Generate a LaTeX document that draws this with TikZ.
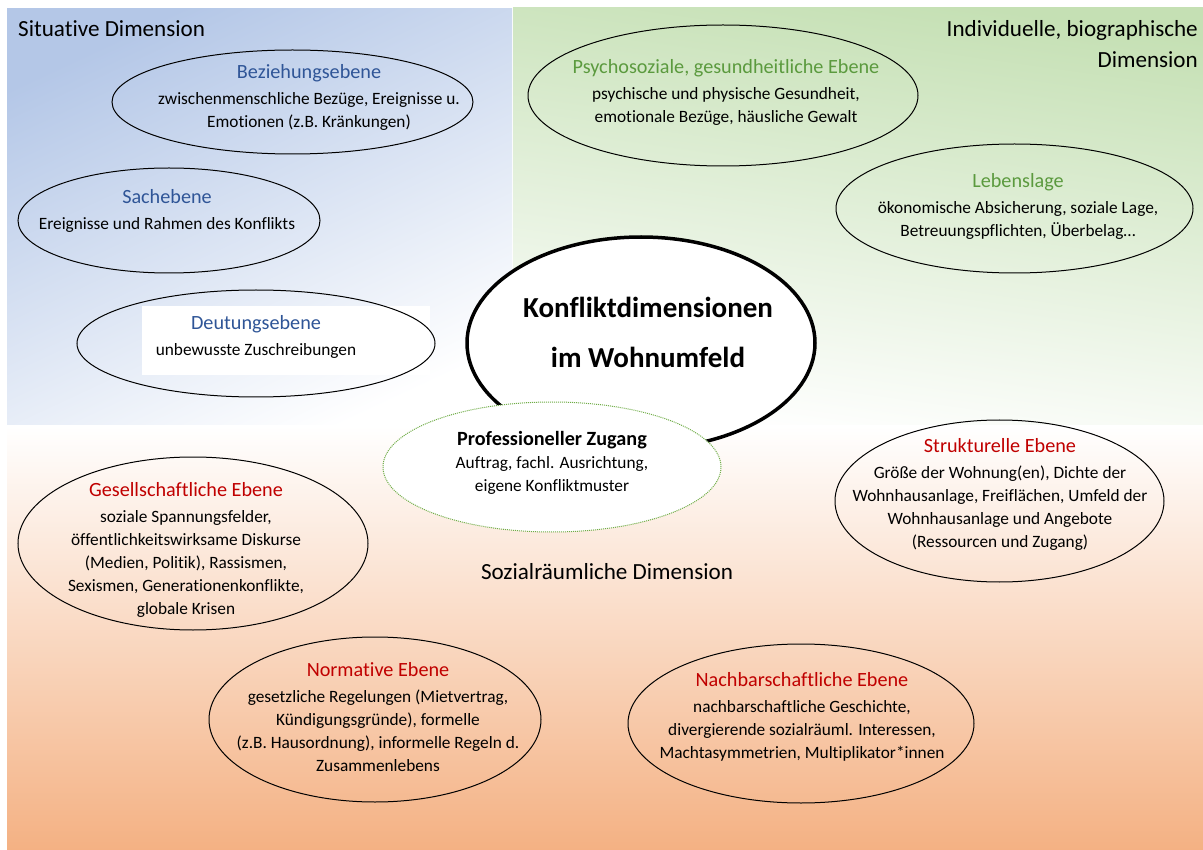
\documentclass[tikz,border=0pt]{standalone}
\usepackage{fontspec}
\setmainfont{Carlito}[Ligatures=NoCommon]
\usetikzlibrary{shapes.geometric}

\definecolor{blauA}{HTML}{B4C7E7}
\definecolor{gruenA}{HTML}{C5E0B4}
\definecolor{orangeA}{HTML}{F4B183}
\definecolor{titelblau}{HTML}{2F5597}
\definecolor{titelgruen}{HTML}{5B9A3E}
\definecolor{titelrot}{HTML}{C00000}
\definecolor{punktgruen}{HTML}{70AD47}

\newcommand{\ebtitel}[2]{{\color{#1}\fontsize{20.2}{23}\selectfont #2}\\[3pt]}

\begin{document}
\begin{tikzpicture}[x=1pt,y=-1pt,
    ebene/.style={draw, ellipse, line width=1pt, inner sep=0pt},
    ebtext/.style={align=center, font=\fontsize{17.3}{23}\selectfont, inner sep=0pt},
    dimtext/.style={font=\fontsize{23.1}{31}\selectfont, inner sep=0pt}]

\useasboundingbox (0,0) rectangle (1203,850);

% Hintergrund der drei Dimensionen
\fill[white] (0,0) rectangle (1203,850);
\shade[top color=blauA, bottom color=white, shading angle=25] (7,9) rectangle (512,426);
\shade[top color=gruenA, bottom color=white, shading angle=-8] (513,8) rectangle (1203,426);
\shade[top color=white, bottom color=orangeA] (7,426) rectangle (1203,850);
\fill[white] (142,306) rectangle (430,375);

\node[dimtext, anchor=west] (situativ) at (18,29) {Situative Dimension};
\node[dimtext, align=right, anchor=east] (indiv) at (1198,44.5) {Individuelle, biographische\\Dimension};
\node[dimtext] (sozial) at (607,572) {Sozialräumliche Dimension};

% situative Ebenen
\node[ebene, minimum width=361, minimum height=104] (bez) at (292.5,102) {};
\node[ebtext] (beztxt) at (309,97.5) {\ebtitel{titelblau}{Beziehungsebene}zwischenmenschliche Bezüge, Ereignisse u.\\Emotionen (z.B. Kränkungen)};

\node[ebene, minimum width=302, minimum height=105] (sach) at (169,220.5) {};
\node[ebtext] (sachtxt) at (167,210.5) {\ebtitel{titelblau}{Sachebene}Ereignisse und Rahmen des Konflikts};

\node[ebene, minimum width=358, minimum height=107] (deut) at (256,343.5) {};
\node[ebtext] (deuttxt) at (256,337) {\ebtitel{titelblau}{Deutungsebene}unbewusste Zuschreibungen};

% individuelle Ebenen
\node[ebene, minimum width=390, minimum height=141] (psy) at (723,95.5) {};
\node[ebtext] (psytxt) at (726,92) {\ebtitel{titelgruen}{Psychosoziale, gesundheitliche Ebene}psychische und physische Gesundheit,\\emotionale Bezüge, häusliche Gewalt};

\node[ebene, minimum width=357, minimum height=129] (leben) at (1014.5,208.5) {};
\node[ebtext] (lebentxt) at (1018,206) {\ebtitel{titelgruen}{Lebenslage}ökonomische Absicherung, soziale Lage,\\Betreuungspflichten, Überbelag…};

% Mitte
\node[ebene, line width=3.5pt, fill=white, minimum width=348, minimum height=212] (mitte) at (641,343) {};
\node[align=center, font=\fontsize{29}{50}\selectfont\bfseries, inner sep=0pt] (mittetxt) at (648,332) {Konfliktdimensionen\\im Wohnumfeld};

\node[ebene, draw=punktgruen, dash pattern=on 1pt off 1pt, fill=white, minimum width=338, minimum height=130] (prof) at (552,467) {};
\node[ebtext] (proftxt) at (552,463) {{\fontsize{20.2}{23}\selectfont\bfseries Professioneller Zugang}\\Auftrag, fachl. Ausrichtung,\\eigene Konfliktmuster};

% sozialräumliche Ebenen
\node[ebene, minimum width=350, minimum height=173] (ges) at (193,543.5) {};
\node[ebtext] (gestxt) at (186,549.5) {\ebtitel{titelrot}{Gesellschaftliche Ebene}soziale Spannungsfelder,\\öffentlichkeitswirksame Diskurse\\(Medien, Politik), Rassismen,\\Sexismen, Generationenkonflikte,\\globale Krisen};

\node[ebene, minimum width=332, minimum height=165] (norm) at (375,719.5) {};
\node[ebtext] (normtxt) at (378,717.5) {\ebtitel{titelrot}{Normative Ebene}gesetzliche Regelungen (Mietvertrag,\\Kündigungsgründe), formelle\\(z.B. Hausordnung), informelle Regeln d.\\Zusammenlebens};

\node[ebene, minimum width=329, minimum height=162] (struk) at (999.5,501) {};
\node[ebtext] (struktxt) at (1000,494.5) {\ebtitel{titelrot}{Strukturelle Ebene}Größe der Wohnung(en), Dichte der\\Wohnhausanlage, Freiflächen, Umfeld der\\Wohnhausanlage und Angebote\\(Ressourcen und Zugang)};

\node[ebene, minimum width=346, minimum height=159] (nach) at (801,723.5) {};
\node[ebtext] (nachtxt) at (802,717) {\ebtitel{titelrot}{Nachbarschaftliche Ebene}nachbarschaftliche Geschichte,\\divergierende sozialräuml. Interessen,\\Machtasymmetrien, Multiplikator*innen};

\end{tikzpicture}
\end{document}
